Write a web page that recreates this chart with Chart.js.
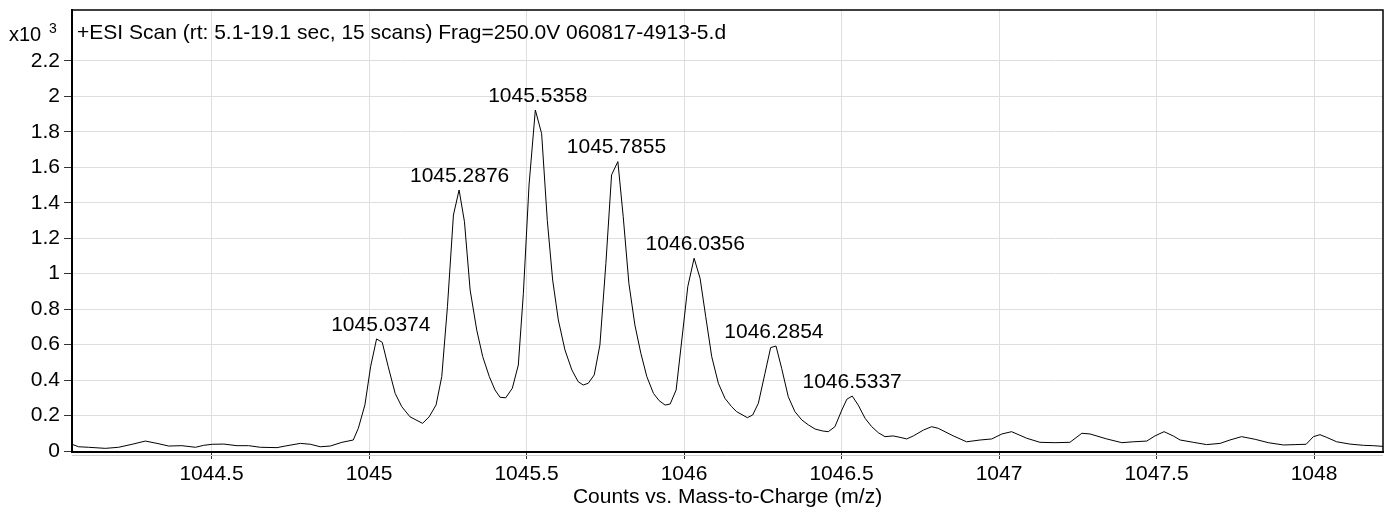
<!DOCTYPE html>
<html>
<head>
<meta charset="utf-8">
<script src="https://cdn.jsdelivr.net/npm/chart.js@4.4.0/dist/chart.umd.min.js"></script>
<style>
  html, body { margin: 0; padding: 0; background: #fff; }
</style>
</head>
<body>
<canvas id="msChart" width="1391" height="514"></canvas>
<script>
// profile spectrum, m/z vs counts (x10^3)
const mzValues = [
  1044.057, 1044.078, 1044.110, 1044.163, 1044.205, 1044.248, 1044.290, 1044.327, 1044.364, 1044.406,
  1044.449, 1044.475, 1044.502, 1044.539, 1044.581, 1044.618, 1044.655, 1044.708, 1044.734, 1044.782,
  1044.814, 1044.845, 1044.877, 1044.914, 1044.950, 1044.966, 1044.987, 1045.005, 1045.024, 1045.042,
  1045.061, 1045.083, 1045.104, 1045.130, 1045.170, 1045.191, 1045.213, 1045.231, 1045.249, 1045.268,
  1045.286, 1045.303, 1045.321, 1045.342, 1045.361, 1045.382, 1045.400, 1045.416, 1045.434, 1045.455,
  1045.474, 1045.490, 1045.508, 1045.528, 1045.548, 1045.566, 1045.583, 1045.601, 1045.622, 1045.644,
  1045.664, 1045.680, 1045.696, 1045.715, 1045.733, 1045.752, 1045.770, 1045.790, 1045.807, 1045.825,
  1045.844, 1045.863, 1045.882, 1045.903, 1045.921, 1045.940, 1045.956, 1045.975, 1045.993, 1046.012,
  1046.032, 1046.051, 1046.069, 1046.088, 1046.109, 1046.130, 1046.151, 1046.167, 1046.201, 1046.218,
  1046.236, 1046.257, 1046.275, 1046.292, 1046.310, 1046.331, 1046.352, 1046.374, 1046.395, 1046.416,
  1046.440, 1046.458, 1046.479, 1046.501, 1046.517, 1046.534, 1046.553, 1046.575, 1046.596, 1046.617,
  1046.638, 1046.664, 1046.686, 1046.707, 1046.728, 1046.760, 1046.786, 1046.807, 1046.855, 1046.897,
  1046.940, 1046.977, 1047.009, 1047.040, 1047.088, 1047.130, 1047.178, 1047.225, 1047.263, 1047.289,
  1047.342, 1047.390, 1047.426, 1047.469, 1047.495, 1047.524, 1047.553, 1047.575, 1047.617, 1047.659,
  1047.702, 1047.733, 1047.770, 1047.813, 1047.855, 1047.903, 1047.940, 1047.975, 1047.998, 1048.019,
  1048.040, 1048.072, 1048.114, 1048.157, 1048.188, 1048.220
];
const counts = [
  0.038, 0.024, 0.021, 0.015, 0.021, 0.038, 0.056, 0.043, 0.028, 0.030,
  0.021, 0.032, 0.038, 0.039, 0.030, 0.030, 0.021, 0.019, 0.028, 0.043,
  0.038, 0.024, 0.028, 0.049, 0.062, 0.128, 0.260, 0.475, 0.632, 0.613,
  0.475, 0.325, 0.250, 0.193, 0.156, 0.193, 0.260, 0.420, 0.814, 1.331,
  1.472, 1.293, 0.908, 0.682, 0.532, 0.419, 0.344, 0.303, 0.300, 0.354,
  0.485, 0.889, 1.500, 1.923, 1.790, 1.300, 0.964, 0.739, 0.570, 0.457,
  0.391, 0.372, 0.382, 0.429, 0.598, 1.059, 1.557, 1.632, 1.321, 0.946,
  0.711, 0.551, 0.419, 0.325, 0.284, 0.259, 0.265, 0.344, 0.626, 0.927,
  1.087, 0.974, 0.757, 0.532, 0.382, 0.297, 0.250, 0.222, 0.188, 0.203,
  0.269, 0.438, 0.583, 0.592, 0.466, 0.306, 0.222, 0.175, 0.147, 0.124,
  0.113, 0.109, 0.137, 0.231, 0.292, 0.310, 0.259, 0.184, 0.137, 0.103,
  0.081, 0.085, 0.077, 0.068, 0.085, 0.118, 0.137, 0.128, 0.085, 0.052,
  0.062, 0.068, 0.096, 0.109, 0.072, 0.049, 0.047, 0.049, 0.100, 0.096,
  0.068, 0.047, 0.052, 0.056, 0.085, 0.109, 0.085, 0.062, 0.049, 0.036,
  0.043, 0.062, 0.081, 0.066, 0.047, 0.034, 0.036, 0.038, 0.081, 0.092,
  0.077, 0.052, 0.039, 0.032, 0.030, 0.026
];
const peakLabels = ['1045.0374', '1045.2876', '1045.5358', '1045.7855', '1046.0356', '1046.2854', '1046.5337'];
const xTickValues = [1044.5, 1045, 1045.5, 1046, 1046.5, 1047, 1047.5, 1048];
const yTickValues = [0, 0.2, 0.4, 0.6, 0.8, 1, 1.2, 1.4, 1.6, 1.8, 2, 2.2];
const scanTitle = '+ESI Scan (rt: 5.1-19.1 sec, 15 scans) Frag=250.0V 060817-4913-5.d';
const xAxisTitle = 'Counts vs. Mass-to-Charge (m/z)';

const FONT = 'Liberation Sans, Arial, sans-serif';

let points = mzValues.map((mz, i) => ({ x: mz, y: counts[i] }));

// frame, scale factor and scan title
const framePlugin = {
  id: 'frame',
  afterDraw(chart) {
    const { ctx, chartArea: a } = chart;
    ctx.save();
    ctx.strokeStyle = '#000';
    ctx.lineWidth = 1.5;
    ctx.beginPath();
    ctx.moveTo(a.left, a.top);
    ctx.lineTo(a.right, a.top);
    ctx.lineTo(a.right, a.bottom);
    ctx.stroke();
    // light line under the axis
    ctx.strokeStyle = '#cfcfcf';
    ctx.lineWidth = 1;
    ctx.beginPath();
    ctx.moveTo(a.left, a.bottom + 3.5);
    ctx.lineTo(a.right, a.bottom + 3.5);
    ctx.stroke();

    ctx.fillStyle = '#000';
    ctx.textBaseline = 'middle';
    ctx.textAlign = 'left';
    ctx.font = '20px ' + FONT;
    ctx.fillText('x10', 9, 35);
    ctx.font = '14px ' + FONT;
    ctx.fillText('3', 49, 29);
    ctx.font = '21px ' + FONT;
    ctx.fillText(scanTitle, a.left + 5, 33);
    ctx.restore();
  }
};

// peak m/z labels above each isotope peak
const peakLabelPlugin = {
  id: 'peakLabels',
  afterDatasetsDraw(chart) {
    const { ctx, scales } = chart;
    ctx.save();
    ctx.fillStyle = '#000';
    ctx.font = '21px ' + FONT;
    ctx.textAlign = 'center';
    ctx.textBaseline = 'middle';
    peakLabels.forEach(label => {
      let mz = parseFloat(label);
      let top = 0;
      mzValues.forEach((m, i) => {
        if (Math.abs(m - mz) < 0.03 && counts[i] > top) top = counts[i];
      });
      ctx.fillText(label, scales.x.getPixelForValue(mz), scales.y.getPixelForValue(top) - 14);
    });
    ctx.restore();
  }
};

let msChart = new Chart(document.getElementById('msChart'), {
  type: 'line',
  data: {
    datasets: [{
      data: points,
      borderColor: '#000',
      borderWidth: 1,
      pointRadius: 0,
      tension: 0,
      fill: false
    }]
  },
  options: {
    responsive: false,
    animation: false,
    devicePixelRatio: 1,
    layout: { padding: { top: 10, right: 8, left: 0, bottom: 0 } },
    plugins: { legend: { display: false }, tooltip: { enabled: false } },
    scales: {
      x: {
        type: 'linear',
        min: 1044.0571,
        max: 1048.219,
        afterBuildTicks: axis => { axis.ticks = xTickValues.map(v => ({ value: v })); },
        afterFit: axis => { axis.height = 62; axis.paddingLeft = 0; axis.paddingRight = 0; },
        grid: { color: '#dedede', lineWidth: 1, tickLength: 7, tickColor: '#333' },
        border: { color: '#000', width: 2 },
        ticks: {
          color: '#000',
          font: { family: FONT, size: 21 },
          padding: 3,
          maxRotation: 0,
          callback: v => String(v)
        },
        title: {
          display: true,
          text: xAxisTitle,
          color: '#000',
          font: { family: FONT, size: 21 },
          padding: { top: 0, bottom: 4 }
        }
      },
      y: {
        min: -0.0056,
        max: 2.487,
        afterBuildTicks: axis => { axis.ticks = yTickValues.map(v => ({ value: v })); },
        afterFit: axis => { axis.width = 72; axis.paddingTop = 0; axis.paddingBottom = 0; },
        grid: { color: '#dedede', lineWidth: 1, tickLength: 8, tickColor: '#333' },
        border: { color: '#000', width: 2 },
        ticks: {
          color: '#000',
          font: { family: FONT, size: 21 },
          padding: 4,
          callback: v => String(Math.round(v * 10) / 10)
        }
      }
    }
  },
  plugins: [framePlugin, peakLabelPlugin]
});
</script>
</body>
</html>
